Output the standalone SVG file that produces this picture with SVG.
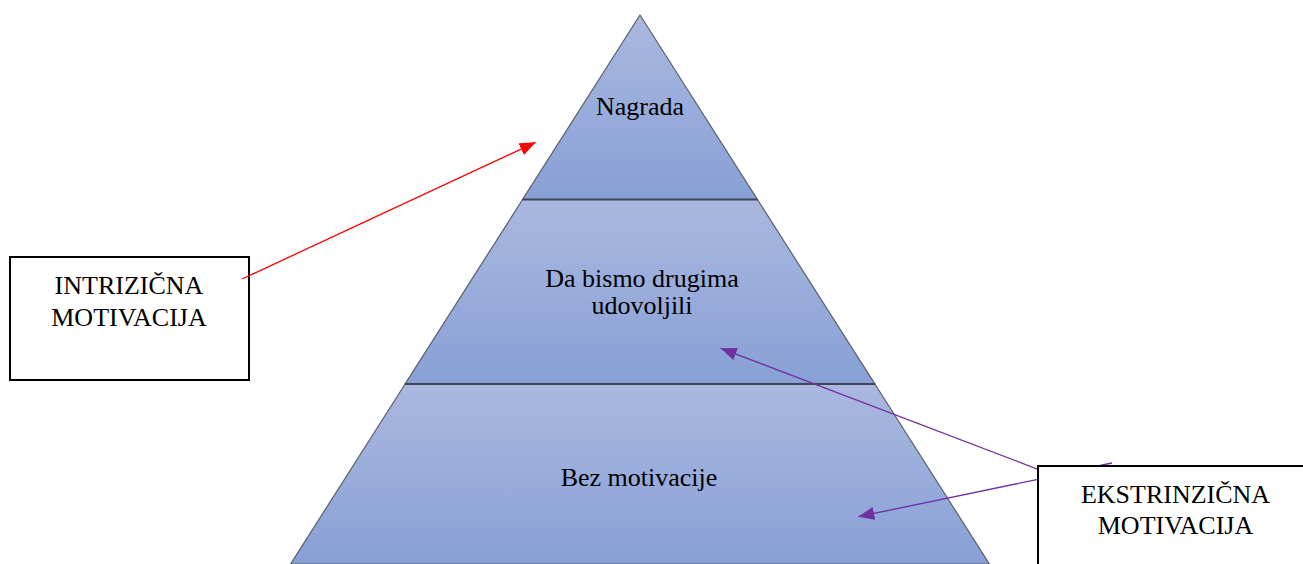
<svg xmlns="http://www.w3.org/2000/svg" width="1303" height="564" viewBox="0 0 1303 564">
<style>
.lbl{font-family:"Liberation Serif","Times New Roman",serif;font-size:26px;fill:#000;text-anchor:middle}
.tier{stroke:#5a5f68;stroke-width:1.2;fill:url(#g)}
.div{stroke:#3d4656;stroke-width:2}
.box{fill:#fff;stroke:#000;stroke-width:2}
.red{stroke:#ff0000;stroke-width:1.3;fill:none}
.pur{stroke:#7030a0;stroke-width:1.3;fill:none}
</style>
<defs>
<linearGradient id="g" x1="0" y1="0" x2="0" y2="1">
<stop offset="0" stop-color="#aab8e0"/>
<stop offset="1" stop-color="#88a0d6"/>
</linearGradient>
<marker id="ar" markerUnits="userSpaceOnUse" markerWidth="18" markerHeight="14" refX="16" refY="6.5" orient="auto">
<path d="M0,0 L16,6.5 L0,13 Z" fill="#ff0000"/>
</marker>
<marker id="ap" markerUnits="userSpaceOnUse" markerWidth="18" markerHeight="14" refX="16" refY="6.5" orient="auto">
<path d="M0,0 L16,6.5 L0,13 Z" fill="#7030a0"/>
</marker>
</defs>
<g id="tier-top">
<polygon class="tier" points="640,15 522.6,199.5 757.4,199.5"/>
<text class="lbl" x="640" y="115">Nagrada</text>
</g>
<g id="tier-middle">
<polygon class="tier" points="522.6,199.5 757.4,199.5 874.9,384 405.1,384"/>
<text class="lbl" x="642" y="287">Da bismo drugima</text>
<text class="lbl" x="642" y="314">udovoljili</text>
</g>
<g id="tier-bottom">
<polygon class="tier" points="405.1,384 874.9,384 989.4,564 290.6,564"/>
<text class="lbl" x="639" y="486">Bez motivacije</text>
</g>
<line class="div" x1="522.6" y1="199.5" x2="757.4" y2="199.5"/>
<line class="div" x1="405.1" y1="384" x2="874.9" y2="384"/>
<g id="box-intrinzicna">
<rect class="box" x="10" y="257" width="239" height="123"/>
<text class="lbl" x="129" y="294">INTRIZIČNA</text>
<text class="lbl" x="129" y="326">MOTIVACIJA</text>
</g>
<g id="connectors">
<line class="red" x1="242" y1="279" x2="535.7" y2="142.3" marker-end="url(#ar)"/>
<line class="pur" x1="1038" y1="469.3" x2="720.7" y2="348.3" marker-end="url(#ap)"/>
<line class="pur" x1="1038" y1="479.3" x2="858.3" y2="516.7" marker-end="url(#ap)"/>
<line class="pur" x1="1100" y1="465.5" x2="1112" y2="463"/>
</g>
<g id="box-ekstrinzicna">
<rect class="box" x="1038" y="466" width="300" height="150"/>
<text class="lbl" x="1175.5" y="503">EKSTRINZIČNA</text>
<text class="lbl" x="1175.5" y="534">MOTIVACIJA</text>
</g>
</svg>
